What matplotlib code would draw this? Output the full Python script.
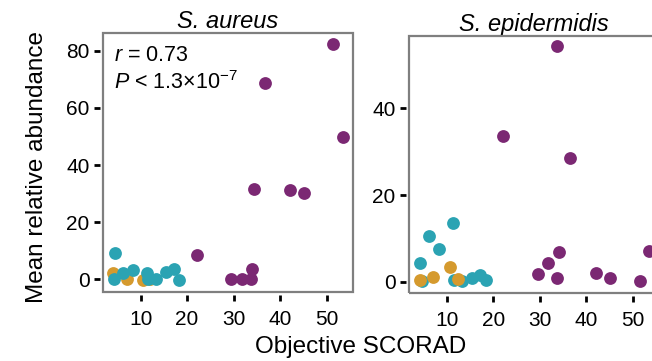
import matplotlib
matplotlib.use("Agg")
import matplotlib.pyplot as plt
from matplotlib.patches import Rectangle

plt.rcParams['font.family'] = ['Liberation Sans', 'DejaVu Sans']
plt.rcParams['mathtext.fontset'] = 'custom'
plt.rcParams['mathtext.rm'] = 'Liberation Sans'
plt.rcParams['mathtext.it'] = 'Liberation Sans:italic'

# ---- data ----
purple_x = [22.2, 29.5, 31.8, 33.7, 33.9, 34.3, 36.7, 42.2, 45.2, 51.5, 53.5]
teal_x = [4.5, 4.3, 6.1, 8.3, 11.3, 11.6, 13.2, 15.4, 17.2, 18.3]
orange_x = [4.0, 7.0, 10.6, 12.0]

aureus_purple = [8.7, 0.0, 0.0, 0.0, 3.5, 31.8, 68.6, 31.3, 30.1, 82.2, 49.9]
aureus_teal = [9.3, 0.3, 2.1, 3.3, 2.3, 0.0, 0.0, 2.7, 3.5, -0.2]
aureus_orange = [2.3, 0.0, -0.2, 0.0]

epi_purple_x = [22.1, 29.6, 31.8, 33.7, 33.8, 34.2, 36.6, 42.2, 45.2, 51.5, 53.5]
epi_purple = [33.7, 1.8, 4.3, 0.85, 54.4, 6.8, 28.5, 2.1, 0.85, 0.1, 7.2]
epi_teal_x = [4.2, 4.6, 6.2, 8.3, 11.2, 11.4, 13.2, 15.4, 17.2, 18.4]
epi_teal = [4.3, 0.1, 10.6, 7.5, 13.5, 0.5, 0.1, 0.85, 1.6, 0.5]
epi_orange_x = [4.1, 7.0, 10.6, 12.3]
epi_orange = [0.3, 1.2, 3.5, 0.6]

titles = ["S. aureus", "S. epidermidis"]
x_ticks = [10, 20, 30, 40, 50]
aureus_yticks = [0, 20, 40, 60, 80]
epi_yticks = [0, 20, 40]

PURPLE = "#7B2873"
TEAL = "#2BA3B3"
ORANGE = "#D59A2E"

W, H = 652, 361
fig = plt.figure(figsize=(W / 100, H / 100), dpi=100)

def px_axes(l, t, r, b):
    return fig.add_axes([l / W, 1 - b / H, (r - l) / W, (b - t) / H])

ax1 = px_axes(103, 33, 353, 292)
ax2 = px_axes(409, 36, 659, 293)

ms = 85
def style(ax, yticks, title):
    for s in ax.spines.values():
        s.set_visible(False)
    ax.spines['left'].set_position(('outward', 2))
    ax.spines['bottom'].set_position(('outward', 2))
    ax.add_patch(Rectangle((0, 0), 1, 1, transform=ax.transAxes, fill=False,
                           edgecolor="#7f7f7f", linewidth=1.6, clip_on=False, zorder=5))
    ax.set_xticks(x_ticks)
    ax.set_yticks(yticks)
    ax.tick_params(axis='both', direction='out', length=4.3, width=2.0,
                   color='black', labelsize=15, pad=3.5)
    ax.tick_params(axis='x', pad=7)
    ax.set_title(title, fontsize=17, style='italic', pad=3)

# S. aureus
ax1.scatter(orange_x, aureus_orange, s=ms, color=ORANGE, linewidths=0, zorder=2)
ax1.scatter(teal_x, aureus_teal, s=ms, color=TEAL, linewidths=0, zorder=3)
ax1.scatter(purple_x, aureus_purple, s=ms, color=PURPLE, linewidths=0, zorder=3)
ax1.set_xlim(1.9, 55.7)
ax1.set_ylim(-4.4, 86.2)
style(ax1, aureus_yticks, titles[0])
ax1.text(0.045, 0.912, r"$r$ = 0.73", transform=ax1.transAxes, fontsize=15.5, va='center')
ax1.text(0.045, 0.81, r"$P$ < 1.3×10$^{−7}$", transform=ax1.transAxes, fontsize=15.5, va='center')

# S. epidermidis
ax2.scatter(epi_teal_x, epi_teal, s=ms, color=TEAL, linewidths=0, zorder=2)
ax2.scatter(epi_orange_x, epi_orange, s=ms, color=ORANGE, linewidths=0, zorder=2)
ax2.scatter(epi_purple_x, epi_purple, s=ms, color=PURPLE, linewidths=0, zorder=3)
ax2.set_xlim(1.8, 55.7)
ax2.set_ylim(-2.6, 56.7)
style(ax2, epi_yticks, titles[1])

fig.text(37 / W, 1 - 167 / H, "Mean relative abundance", rotation=90,
         fontsize=17.5, ha='center', va='center')
fig.text(361 / W, 1 - 347 / H, "Objective SCORAD", fontsize=17.5,
         ha='center', va='center')

fig.savefig("out.png", dpi=100)
